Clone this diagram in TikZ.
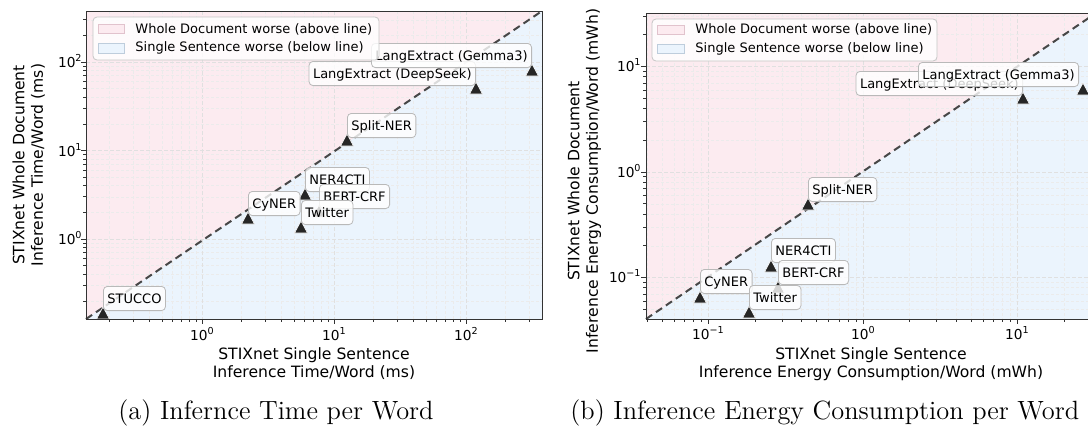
\documentclass[tikz,border=0pt]{standalone}
\usepackage{fontspec}
\newfontfamily\dv{DejaVu Sans}
\definecolor{pinkbg}{RGB}{252,235,240}
\definecolor{bluebg}{RGB}{235,244,253}
\definecolor{pinkedge}{RGB}{225,195,205}
\definecolor{blueedge}{RGB}{190,205,220}
\newcommand\tpow[1]{10\raisebox{0.42em}{\fontsize{4.8}{5}\selectfont#1}}
\newcommand\axticks[9]{%
  \foreach \e in {#9}{%
    \foreach \k in {1,...,9}{%
      \pgfmathsetmacro\px{#1+#2*(\e+log10(\k))}%
      \pgfmathsetmacro\py{#5-#6*(\e+log10(\k))}%
      \ifdim\px pt>#3pt \ifdim\px pt<#4pt
        \ifnum\k=1
          \draw[gridmaj] (\px,#7) -- (\px,#8);
          \draw[tickmaj] (\px,#8) -- (\px,{#8+5});
        \else
          \draw[gridmin] (\px,#7) -- (\px,#8);
          \draw[tickmin] (\px,#8) -- (\px,{#8+3});
        \fi
      \fi\fi
      \ifdim\py pt>#7pt \ifdim\py pt<#8pt
        \ifnum\k=1
          \draw[gridmaj] (#3,\py) -- (#4,\py);
          \draw[tickmaj] (#3,\py) -- ({#3-5},\py);
        \else
          \draw[gridmin] (#3,\py) -- (#4,\py);
          \draw[tickmin] (#3,\py) -- ({#3-3},\py);
        \fi
      \fi\fi
    }%
  }%
}
\begin{document}
\begin{tikzpicture}[x=0.5pt,y=-0.5pt,
  frame/.style={draw=black!80, line width=0.5pt},
  tickmaj/.style={draw=black!80, line width=0.45pt},
  tickmin/.style={draw=black!80, line width=0.35pt},
  gridmin/.style={draw=gray!16, line width=0.25pt, dash pattern=on 1.5pt off 1pt},
  gridmaj/.style={draw=gray!24, line width=0.35pt, dash pattern=on 2pt off 1pt},
  diag/.style={draw=black!72, line width=1pt, dash pattern=on 3.7pt off 2.3pt},
  tri/.style={fill=black!85, draw=white, line width=0.3pt},
  lbl/.style={draw=gray!55, fill=white, fill opacity=0.8, text opacity=1, rounded corners=2pt,
    inner xsep=2pt, inner ysep=1.2pt, font=\dv\fontsize{6.5}{7.8}\selectfont,
    text height=0.75em, text depth=0.22em},
  legbox/.style={draw=gray!45, fill=white, fill opacity=0.8, rounded corners=2pt, line width=0.4pt},
  legtxt/.style={anchor=west, inner sep=0pt, font=\dv\fontsize{6.5}{7.8}\selectfont},
  ticklbl/.style={inner sep=0pt, font=\dv\fontsize{6.85}{8}\selectfont},
  axlbl/.style={inner sep=0pt, align=center, font=\dv\fontsize{7.8}{9.3}\selectfont},
  captxt/.style={inner sep=0pt, font=\fontsize{13.2}{15}\selectfont}
]
\useasboundingbox (0,0) rectangle (1088,434);
\clip (0,0) rectangle (1088,434);
\fill[white] (0,0) rectangle (1088,434);

% ================= left plot =================
\coordinate (L00) at (86,319);
\coordinate (L11) at (542,11);
\fill[pinkbg] (86,11) -- (86,319) -- (542,11) -- cycle;
\fill[bluebg] (86,319) -- (542,319) -- (542,11) -- cycle;
\axticks{202}{132}{86}{542}{239}{88.5}{11}{319}{-1,0,1,2}
\draw[diag] (L00) -- (L11);

\node[ticklbl, anchor=base] (lx0) at (202,340) {\tpow{0}};
\node[ticklbl, anchor=base] (lx1) at (334,340) {\tpow{1}};
\node[ticklbl, anchor=base] (lx2) at (466,340) {\tpow{2}};
\node[ticklbl, anchor=base east] (ly0) at (82,244) {\tpow{0}};
\node[ticklbl, anchor=base east] (ly1) at (82,156) {\tpow{1}};
\node[ticklbl, anchor=base east] (ly2) at (82,67) {\tpow{2}};

\coordinate (pa1) at (103,313);
\coordinate (pa2) at (248,218);
\coordinate (pa3) at (305,194);
\coordinate (pa4) at (319,211);
\coordinate (pa5) at (301,227);
\coordinate (pa6) at (347,140);
\coordinate (pa7) at (476,88);
\coordinate (pa8) at (532,70);
\foreach \p in {pa1,pa2,pa3,pa4,pa5,pa6,pa7,pa8}{
  \filldraw[tri] (\p) ++(0,-6) -- ++(6.5,12) -- ++(-13,0) -- cycle;
}
\node[lbl, anchor=south west] (la1) at ([yshift=1pt]pa1) {STUCCO};
\node[lbl, anchor=south west] (la2) at ([yshift=1pt]pa2) {CyNER};
\node[lbl, anchor=south west] (la3) at ([yshift=1pt]pa3) {NER4CTI};
\node[lbl, anchor=south west] (la4) at ([yshift=1pt]pa4) {BERT-CRF};
\node[lbl, anchor=south west] (la5) at ([yshift=1pt]pa5) {Twitter};
\node[lbl, anchor=south west] (la6) at ([yshift=1pt]pa6) {Split-NER};
\node[lbl, anchor=south east] (la7) at ([yshift=1pt]pa7) {LangExtract (DeepSeek)};
\node[lbl, anchor=south east] (la8) at ([yshift=1pt]pa8) {LangExtract (Gemma3)};

\draw[frame] (86,11) rectangle (542,319);

\path[legbox] (93,17) rectangle (379,60);
\draw[fill=pinkbg, draw=pinkedge, line width=0.3pt] (98,24) rectangle (124,33);
\draw[fill=bluebg, draw=blueedge, line width=0.3pt] (98,43) rectangle (124,53);
\node[legtxt] (lg1) at (135,29) {Whole Document worse (above line)};
\node[legtxt] (lg2) at (135,48) {Single Sentence worse (below line)};

\node[axlbl, anchor=north] (lxl) at (314,347) {STIXnet Single Sentence\\Inference Time/Word (ms)};
\node[axlbl, anchor=north, rotate=90] (lyl) at (12,165) {STIXnet Whole Document\\Inference Time/Word (ms)};

\node[captxt, anchor=base] (capa) at (276,419) {(a) Infernce Time per Word};

% ================= right plot =================
\coordinate (R00) at (646,319);
\coordinate (R11) at (1096,13);
\fill[pinkbg] (646,13) -- (646,319) -- (1096,13) -- cycle;
\fill[bluebg] (646,319) -- (1096,319) -- (1096,13) -- cycle;
\axticks{863}{154.5}{646}{1096}{172}{105.5}{13}{319}{-2,-1,0,1}
\draw[diag] (R00) -- (R11);

\node[ticklbl, anchor=base] (rx0) at (708,339) {\tpow{−1}};
\node[ticklbl, anchor=base] (rx1) at (863,339) {\tpow{0}};
\node[ticklbl, anchor=base] (rx2) at (1017,339) {\tpow{1}};
\node[ticklbl, anchor=base east] (ry0) at (641,282) {\tpow{−1}};
\node[ticklbl, anchor=base east] (ry1) at (641,177) {\tpow{0}};
\node[ticklbl, anchor=base east] (ry2) at (641,71) {\tpow{1}};

\coordinate (pb1) at (700,297);
\coordinate (pb2) at (749,312);
\coordinate (pb3) at (771,266);
\coordinate (pb4) at (778,287);
\coordinate (pb5) at (808,204);
\coordinate (pb6) at (1023,98);
\coordinate (pb7) at (1083,89);
\foreach \p in {pb1,pb2,pb3,pb4,pb5,pb6,pb7}{
  \filldraw[tri] (\p) ++(0,-6) -- ++(6.5,12) -- ++(-13,0) -- cycle;
}
\node[lbl, anchor=south west] (lb1) at ([yshift=1.5pt]pb1) {CyNER};
\node[lbl, anchor=south west] (lb2) at ([yshift=1pt]pb2) {Twitter};
\node[lbl, anchor=south west] (lb3) at ([yshift=1.5pt]pb3) {NER4CTI};
\node[lbl, anchor=south west] (lb4) at ([yshift=1pt]pb4) {BERT-CRF};
\node[lbl, anchor=south west] (lb5) at ([yshift=1pt]pb5) {Split-NER};
\node[lbl, anchor=south east] (lb6) at ([yshift=1pt]pb6) {LangExtract (DeepSeek)};
\node[lbl, anchor=south east] (lb7) at ([xshift=-2pt,yshift=1pt]pb7) {LangExtract (Gemma3)};

\draw[frame] (646,13) rectangle (1096,319);

\path[legbox] (652,19) rectangle (937,61);
\draw[fill=pinkbg, draw=pinkedge, line width=0.3pt] (657,25) rectangle (684,34);
\draw[fill=bluebg, draw=blueedge, line width=0.3pt] (657,44) rectangle (684,53);
\node[legtxt] (rg1) at (695,29.5) {Whole Document worse (above line)};
\node[legtxt] (rg2) at (695,48.5) {Single Sentence worse (below line)};

\node[axlbl, anchor=north] (rxl) at (871,347) {STIXnet Single Sentence\\Inference Energy Consumption/Word (mWh)};
\node[axlbl, anchor=north, rotate=90] (ryl) at (567,181) {STIXnet Whole Document\\Inference Energy Consumption/Word (mWh)};

\node[captxt, anchor=base west] (capb) at (570,419) {(b) Inference Energy Consumption per Word};
\end{tikzpicture}
\end{document}
